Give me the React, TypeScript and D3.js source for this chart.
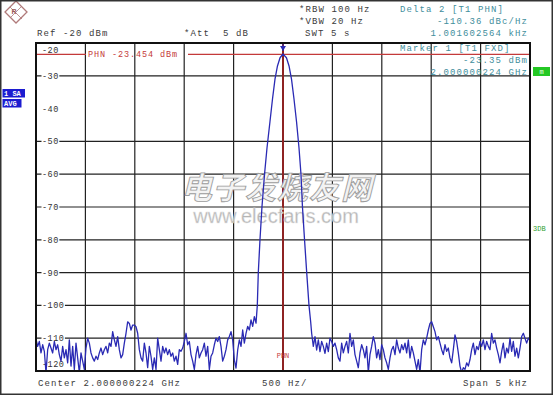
import { useEffect, useRef } from "react";
import * as d3 from "d3";

// span around the 2.000000224 GHz carrier, and the display range
const spanHz = [-2500, 2500];
const levelRange = [-120, -20];
const xGridHz = [-2500, -2000, -1500, -1000, -500, 0, 500, 1000, 1500, 2000, 2500];
const yTickLevels = [-20, -30, -40, -50, -60, -70, -80, -90, -100, -110, -120];
const yTickLabels = ["-20", "-30", "-40", "-50", "-60", "-70", "-80", "-90", "-100", "-110", "-120"];

// trace (sweep points every ~16.9 Hz)
const sweepStepHz = 16.87;
const leftNoiseStartHz = -2500;
const leftNoiseDbm = [
  -110.3, -112.5, -111, -114.5, -112, -114, -120.5, -113.5, -111.5, -113,
  -114.5, -111, -113.5, -112, -115, -117, -112.5, -116, -113.5, -117.5,
  -110.5, -118.5, -112.5, -119.5, -111.5, -116, -120.5, -114.5, -117, -119.5,
  -113, -110, -111.5, -114.5, -116, -117, -115.5, -116.5, -114.5, -113,
  -115, -113.5, -112.5, -114.5, -111.5, -112.5, -108, -110.5, -112.5, -109.5,
  -113.5, -116, -115, -111.5, -108.5, -105, -105.5, -107.5, -106,
  -106, -106.5, -108.5, -113.5, -116, -117, -111.5, -114.5, -119, -112.5,
  -115.5, -119.5, -116, -119.5, -110, -113.5, -117, -112.5, -114.5, -113,
  -115, -113.5, -115.5, -114.5, -117, -115.5, -118, -113.5, -114, -113,
  -111, -108.5, -112, -111, -115, -117, -119.5, -115, -112.5, -116,
  -114.5, -113.5, -111.5, -115.5, -112.5, -119.5, -115.5, -114.5, -112, -110,
  -111, -109.5, -112.5, -117, -115.5, -113.5, -110.5, -109.5, -108, -110.5,
  -116.6, -119.1, -113.6, -110.5, -112.5, -107.5, -111.5, -108.5, -106.4, -107.5,
  -104.4, -106.4, -103.4, -105.4,
];
const peakHz = [-260, -250, -233, -213, -187, -162, -132, -106, -81, -56, -30, 0, 35, 61, 86, 111, 137, 162, 182, 197, 218, 240, 263, 280];
const peakDbm = [-100, -90, -80, -70, -60, -52, -44, -37, -31, -27, -24.5, -23.35, -24.5, -27, -31, -37, -44, -52, -60, -70, -80, -90, -100, -105];
const rightNoiseStartHz = 290;
const rightNoiseDbm = [
  -108.5, -112.5, -109.5, -113.6, -110.5, -114.1, -111, -112.5, -114.6, -111.5, -114.1,
  -110, -111, -112.5, -111.5, -113.5, -116, -117, -111.5, -114.5, -112.5,
  -111, -114.5, -108.5, -112.5, -110.5, -115, -117, -119, -114.5, -112,
  -113.5, -116, -112.5, -120.5, -115, -112.5, -109.5, -111.5, -116, -113.5,
  -116.5, -112, -113.5, -116, -117.5, -119.5, -116, -113.5, -112.5, -115,
  -110.5, -113, -114.5, -112, -113.5, -111.5, -114.5, -110.5, -116, -112.5,
  -114.5, -117, -119.5, -116.5, -120.5, -113.5, -110.5, -112, -110, -107.5,
  -105.5, -105, -106.5, -108, -110.5, -109.5, -111.5, -113.5, -115, -112,
  -114, -113, -116, -117.5, -113.5, -109, -111, -114.5, -118.5, -120.5,
  -119, -119.5, -117.5, -118.5, -116.5, -113.5, -111.5, -115, -112.5, -113.5,
  -111, -112.5, -110.5, -113.5, -111, -112.5, -113.5, -108.5, -111.5, -110.5,
  -113, -115, -117.5, -114, -111.5, -116, -113, -114.5, -110, -114,
  -111, -115.5, -113, -116, -113, -109.5, -108.5, -110, -111.5, -110, -110.5,
];
const phnLevelDbm = -23.454;
const markerHz = 0;

const mono = "'Liberation Mono', 'DejaVu Sans Mono', monospace";

export default function App() {
  const svgRef = useRef<SVGSVGElement | null>(null);

  useEffect(() => {
    if (!svgRef.current) return;
    document.body.style.margin = "0";

    const width = 553;
    const height = 395;
    const left = 36, right = 530, top = 43, bottom = 371;

    const svg = d3.select(svgRef.current);
    svg.selectAll("*").remove();
    svg.attr("width", width).attr("height", height);

    const x = d3.scaleLinear().domain(spanHz).range([left, right]);
    const y = d3.scaleLinear().domain(levelRange).range([bottom, top]);

    svg.append("rect").attr("width", width).attr("height", height).attr("fill", "#fff");

    // grid (the -40 row is lost in the screenshot)
    svg.append("g")
      .selectAll("line")
      .data(xGridHz)
      .enter()
      .append("line")
      .attr("x1", d => x(d)).attr("x2", d => x(d))
      .attr("y1", top).attr("y2", bottom)
      .attr("stroke", "#222").attr("stroke-width", 1.2);

    svg.append("g")
      .selectAll("line")
      .data(yTickLevels.filter(v => v !== -40))
      .enter()
      .append("line")
      .attr("x1", left).attr("x2", right)
      .attr("y1", d => y(d)).attr("y2", d => y(d))
      .attr("stroke", "#222").attr("stroke-width", 1.2);

    // y labels sit inside the plot on white
    const yl = svg.append("g");
    yTickLevels.forEach((v, i) => {
      let ty = y(v) + 3;
      if (i === 0) ty = y(v) + 10;
      if (i === yTickLevels.length - 1) ty = y(v) - 4;
      const t = yl.append("text")
        .attr("x", 42)
        .attr("y", ty)
        .attr("font-family", mono)
        .attr("font-size", 8.5)
        .attr("letter-spacing", 0.5)
        .attr("fill", "#333")
        .text(yTickLabels[i]);
      const bb = (t.node() as SVGTextElement).getBBox();
      yl.insert("rect", "text")
        .attr("x", bb.x - 0.5).attr("y", y(v) - 1.5)
        .attr("width", bb.width + 1).attr("height", 3)
        .attr("fill", "#fff");
    });

    // red PHN reference line, broken behind its label
    const phnY = y(phnLevelDbm);
    svg.append("line").attr("x1", left).attr("x2", 86).attr("y1", phnY).attr("y2", phnY)
      .attr("stroke", "#c43a3a").attr("stroke-width", 1.2);
    svg.append("line").attr("x1", 188).attr("x2", right).attr("y1", phnY).attr("y2", phnY)
      .attr("stroke", "#c43a3a").attr("stroke-width", 1.2);
    svg.append("text")
      .attr("x", 88).attr("y", phnY + 3)
      .attr("font-family", mono).attr("font-size", 8.5).attr("letter-spacing", 0.9)
      .attr("fill", "#c43a3a")
      .text("PHN -23.454 dBm");

    // marker line
    svg.append("line")
      .attr("x1", x(markerHz)).attr("x2", x(markerHz))
      .attr("y1", top).attr("y2", bottom)
      .attr("stroke", "#8e2323").attr("stroke-width", 2);
    svg.append("text")
      .attr("x", x(markerHz)).attr("y", 358)
      .attr("text-anchor", "middle")
      .attr("font-family", mono).attr("font-size", 7)
      .attr("fill", "#c43a3a")
      .text("PHN");

    // watermark
    svg.append("text")
      .attr("x", 0).attr("y", 0)
      .attr("transform", "translate(277,199) skewX(-14)")
      .attr("text-anchor", "middle")
      .attr("font-family", "'Noto Sans CJK SC', sans-serif")
      .attr("font-weight", 700)
      .attr("font-size", 31)
      .attr("letter-spacing", 1)
      .attr("fill", "#f3f3f3")
      .attr("stroke", "#9c9c9c")
      .attr("stroke-width", 0.9)
      .text("电子发烧友网");
    svg.append("text")
      .attr("x", 276).attr("y", 223)
      .attr("text-anchor", "middle")
      .attr("font-family", "'Liberation Sans', Arial, sans-serif")
      .attr("font-size", 20)
      .attr("fill", "#b4b4b4")
      .attr("stroke", "#e8e8e8")
      .attr("stroke-width", 0.4)
      .text("www.elecfans.com");

    // trace
    const pts: [number, number][] = [
      ...leftNoiseDbm.map((v, i) => [leftNoiseStartHz + i * sweepStepHz, v] as [number, number]),
      ...peakHz.map((f, i) => [f, peakDbm[i]] as [number, number]),
      ...rightNoiseDbm.map((v, i) => [rightNoiseStartHz + i * sweepStepHz, v] as [number, number]),
    ];
    svg.append("clipPath").attr("id", "plotClip")
      .append("rect").attr("x", left).attr("y", top).attr("width", right - left).attr("height", bottom - top);
    svg.append("path")
      .datum(pts)
      .attr("clip-path", "url(#plotClip)")
      .attr("fill", "none")
      .attr("stroke", "#2a2ab4")
      .attr("stroke-width", 1.3)
      .attr("stroke-linejoin", "round")
      .attr("d", d3.line<[number, number]>().x(d => x(d[0])).y(d => y(d[1])));

    // marker symbol at the peak
    const mx = x(markerHz);
    svg.append("path")
      .attr("d", `M${mx - 3},${top + 3} L${mx + 3},${top + 3} L${mx},${top + 8} Z`)
      .attr("fill", "#2a2ab4");
    svg.append("line").attr("x1", mx).attr("x2", mx).attr("y1", top).attr("y2", top + 8)
      .attr("stroke", "#2a2ab4").attr("stroke-width", 1);

    // plot frame
    svg.append("rect")
      .attr("x", left).attr("y", top).attr("width", right - left).attr("height", bottom - top)
      .attr("fill", "none").attr("stroke", "#111").attr("stroke-width", 2);

    // header / footer text
    const dark = "#3a3a3a";
    const teal = "#3f8e9c";
    const txt = (tx: number, ty: number, s: string, fill: string, anchor = "start") =>
      svg.append("text")
        .attr("x", tx).attr("y", ty)
        .attr("text-anchor", anchor)
        .attr("font-family", mono)
        .attr("font-size", 9)
        .attr("letter-spacing", 1.1)
        .attr("fill", fill)
        .style("white-space", "pre")
        .text(s);

    txt(299, 12, "*RBW 100 Hz", dark);
    txt(299, 24, "*VBW 20 Hz", dark);
    txt(305, 36, "SWT 5 s", dark);
    txt(37, 36, "Ref -20 dBm", dark);
    txt(184, 36, "*Att  5 dB", dark);
    txt(400, 12, "Delta 2 [T1 PHN]", teal);
    txt(528, 24, "-110.36 dBc/Hz", teal, "end");
    txt(528, 36, "1.001602564 kHz", teal, "end");
    txt(400, 51, "Marker 1 [T1 FXD]", teal);
    txt(528, 63, "-23.35 dBm", teal, "end");
    txt(528, 75, "2.000000224 GHz", teal, "end");
    txt(38, 386, "Center 2.000000224 GHz", dark);
    txt(262, 386, "500 Hz/", dark);
    txt(528, 386, "Span 5 kHz", dark, "end");

    // side boxes
    svg.append("rect").attr("x", 533).attr("y", 67).attr("width", 17).attr("height", 9).attr("fill", "#24c824");
    svg.append("text").attr("x", 541.5).attr("y", 74).attr("text-anchor", "middle")
      .attr("font-family", mono).attr("font-size", 7).attr("fill", "#e8ffe8").text("m");
    svg.append("text").attr("x", 533).attr("y", 231)
      .attr("font-family", mono).attr("font-size", 7).attr("fill", "#2f9f2f").text("3DB");

    svg.append("rect").attr("x", 2.5).attr("y", 89).attr("width", 22.5).attr("height", 8.5).attr("fill", "#1c1cd0");
    svg.append("text").attr("x", 4).attr("y", 96)
      .attr("font-family", mono).attr("font-size", 7).attr("font-weight", 700).attr("fill", "#fff").text("1 SA");
    svg.append("rect").attr("x", 2.5).attr("y", 99).attr("width", 19).attr("height", 8.5).attr("fill", "#1c1cd0");
    svg.append("text").attr("x", 4).attr("y", 106)
      .attr("font-family", mono).attr("font-size", 7).attr("font-weight", 700).attr("fill", "#fff").text("AVG");

    // R&S logo
    const logo = svg.append("g").attr("transform", "translate(16,12)");
    logo.append("path").attr("d", "M0,-11 L11,0 L0,11 L-11,0 Z")
      .attr("fill", "#fff").attr("stroke", "#b07a7a").attr("stroke-width", 1.3);
    logo.append("path").attr("d", "M-6,-5 L6,7 M-5,5 L5,-5")
      .attr("stroke", "#b07a7a").attr("stroke-width", 0.8).attr("fill", "none");
    logo.append("text").attr("x", -2).attr("y", 2).attr("text-anchor", "middle")
      .attr("font-family", "'Liberation Sans', sans-serif").attr("font-size", 7).attr("font-weight", 700)
      .attr("fill", "#9a5a5a").text("R");

    // outer frame
    svg.append("rect").attr("x", 0.75).attr("y", 0.75).attr("width", width - 1.5).attr("height", height - 1.5)
      .attr("fill", "none").attr("stroke", "#333").attr("stroke-width", 1.5);
  }, []);

  return <svg ref={svgRef} style={{ display: "block" }} />;
}
